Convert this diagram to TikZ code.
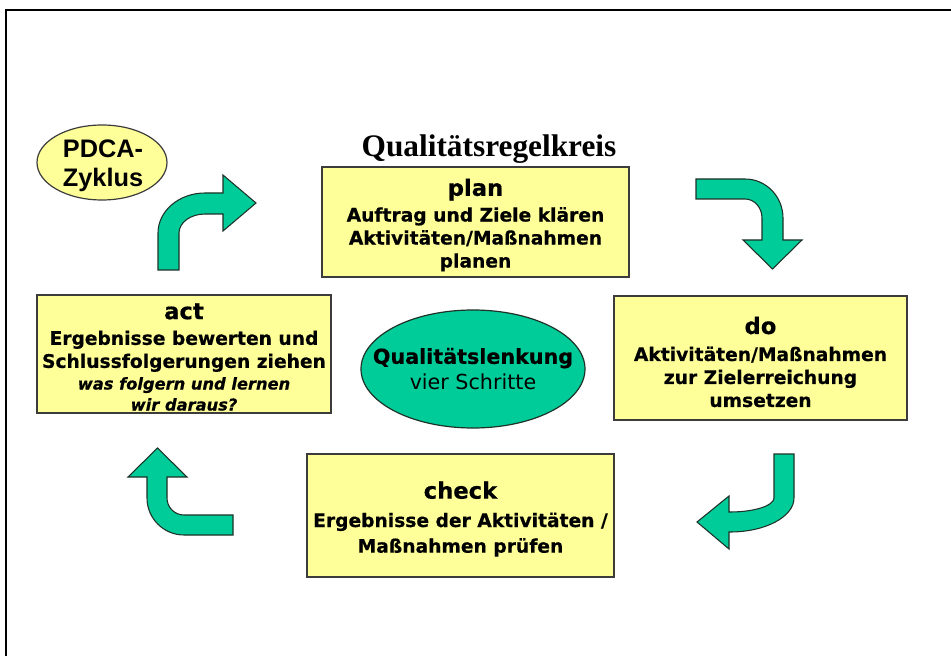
\documentclass[tikz,border=0pt]{standalone}
\usepackage{fontspec}
\setmainfont{DejaVu Sans}[BoldFeatures={FakeBold=0.5},BoldItalicFeatures={FakeBold=0.5}]
\newfontfamily\titlefont{Liberation Serif}
\newfontfamily\pdcafont{Liberation Sans}
\usetikzlibrary{shapes.geometric}
\definecolor{boxyellow}{RGB}{255,255,153}
\definecolor{arrowgreen}{RGB}{0,204,153}
\definecolor{edgegray}{RGB}{60,60,60}
\definecolor{arrowedge}{RGB}{30,50,40}
\begin{document}
\begin{tikzpicture}[x=0.75pt,y=-0.75pt,
  box/.style={draw=edgegray, line width=0.9pt, fill=boxyellow, rectangle, inner sep=0pt},
  boxtext/.style={align=center, inner sep=0pt, font=\bfseries\fontsize{14}{17.25}\selectfont},
  blockarrow/.style={fill=arrowgreen, draw=arrowedge, line width=0.8pt, line join=miter}]
\useasboundingbox (0,0) rectangle (951,656);
\fill[white] (0,0) rectangle (951,656);
% frame
\draw[line width=2.2pt] (6,656) -- (6,10) -- (951,10);

% title
\node[font=\titlefont\bfseries\fontsize{23.5}{24}\selectfont] (title) at (489,149) {Qualitätsregelkreis};

% PDCA ellipse
\draw[draw=edgegray, line width=0.9pt, fill=boxyellow] (102,162.5) ellipse [x radius=65, y radius=37.5];
\node[align=center, inner sep=0pt, font=\pdcafont\bfseries\fontsize{19}{21.5}\selectfont] (pdca) at (103,166)
  {PDCA-\\Zyklus};

% boxes
\node[box, minimum width=230.25pt, minimum height=82.5pt] (plan) at (475.5,222) {};
\node[boxtext] (plantext) at (475.5,225)
  {{\fontsize{17}{17.25}\selectfont plan}\\[2pt]Auftrag und Ziele klären\\Aktivitäten/Maßnahmen\\planen};
\node[box, minimum width=219.75pt, minimum height=93pt] (do) at (760.5,358) {};
\node[boxtext] (dotext) at (760.5,362)
  {{\fontsize{17}{17.25}\selectfont do}\\[3pt]Aktivitäten/Maßnahmen\\zur Zielerreichung\\umsetzen};
\node[box, minimum width=220.5pt, minimum height=88.5pt] (act) at (184,354) {};
\node[boxtext] (acttext) at (184,357)
  {{\fontsize{17}{17.25}\selectfont act}\\[2pt]Ergebnisse bewerten und\\Schlussfolgerungen ziehen\\[-1pt]
   {\itshape\fontsize{12.2}{15.75}\selectfont was folgern und lernen}\\[-1.5pt]{\itshape\fontsize{12.2}{15.75}\selectfont wir daraus?}};
\node[box, minimum width=230.25pt, minimum height=92.25pt] (check) at (460.5,515.5) {};
\node[boxtext] (checktext) at (460.5,519)
  {{\fontsize{17}{17.25}\selectfont check}\\[4pt]Ergebnisse der Aktivitäten /\\[2pt]Maßnahmen prüfen};

% centre ellipse
\draw[draw=arrowedge, line width=0.9pt, fill=arrowgreen] (473,369) ellipse [x radius=112, y radius=59];
\node[align=center, inner sep=0pt, font=\fontsize{15.5}{19.5}\selectfont] (centre) at (473,369)
  {\textbf{Qualitätslenkung}\\vier Schritte};

% block arrows
% act -> plan (top left)
\draw[blockarrow] (158,270) -- (158,233) .. controls (158,211) and (179,193) .. (205,193)
  -- (223,193) -- (223,175) -- (256,203) -- (223,231) -- (223,214) -- (205,214)
  .. controls (190.6,214) and (179,222.5) .. (179,233) -- (179,270) -- cycle;
% plan -> do (top right)
\draw[blockarrow] (696,179) -- (745,179) .. controls (766,179) and (783,196.5) .. (783,218)
  -- (783,240) -- (802,240) -- (772.5,269) -- (743,240) -- (762,240) -- (762,218)
  .. controls (762,207.5) and (754.4,199) .. (745,199) -- (696,199) -- cycle;
% do -> check (bottom right)
\draw[blockarrow] (774,454) -- (794,454) -- (794,498) .. controls (794,516.8) and (765.3,532) .. (730,532)
  -- (729,532) -- (729,549) -- (697,522) -- (729,496) -- (729,512) -- (730,512)
  .. controls (754.3,512) and (774,505.7) .. (774,498) -- cycle;
% check -> act (bottom left)
\draw[blockarrow] (233,515) -- (184,515) .. controls (174.6,515) and (167,507.4) .. (167,498)
  -- (167,477) -- (187,477) -- (157.5,448) -- (128,477) -- (147,477) -- (147,498)
  .. controls (147,518.4) and (163.6,535) .. (184,535) -- (233,535) -- cycle;
\end{tikzpicture}
\end{document}
